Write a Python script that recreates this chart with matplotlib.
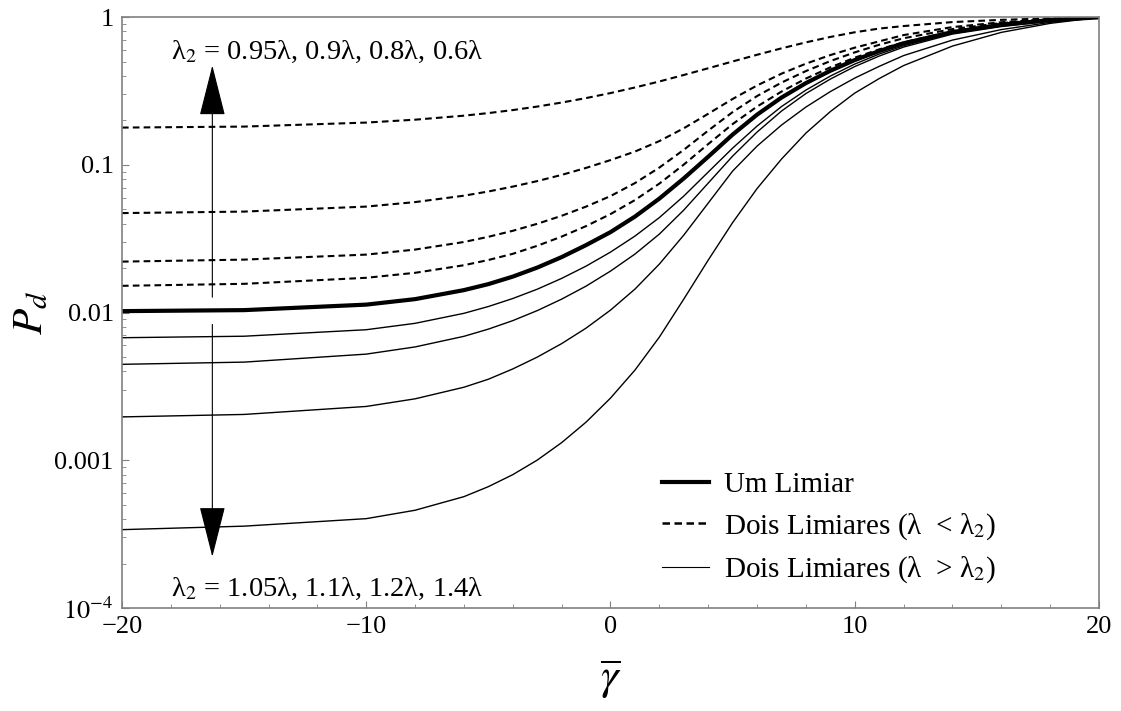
import numpy as np
import matplotlib
matplotlib.use("Agg")
import matplotlib.pyplot as plt
from matplotlib.ticker import FixedLocator, FixedFormatter, LogLocator, NullFormatter, MultipleLocator

plt.rcParams["font.family"] = ["Liberation Serif", "DejaVu Serif"]
plt.rcParams["mathtext.fontset"] = "stix"

# ===== data (mean SNR in dB -> detection probability) =====
snr = [-20, -15, -10, -8, -6, -5, -4, -3, -2, -1, 0, 1, 2, 3, 4, 5, 6, 7, 8, 9, 10,
       11, 12, 14, 16, 18, 20]

pd_single = [0.01022, 0.01038, 0.01131, 0.01232, 0.01418, 0.01557, 0.01750, 0.02014,
             0.02372, 0.02860, 0.03501, 0.04459, 0.05903, 0.08089, 0.1134, 0.1601,
             0.2184, 0.2851, 0.3573, 0.4330, 0.5115, 0.5886, 0.6647, 0.7915, 0.8869,
             0.9543, 0.9953]

# lambda2 < lambda  (dashed): 0.6, 0.8, 0.9, 0.95
pd_l2_060 = [0.1786, 0.1814, 0.1931, 0.2020, 0.2150, 0.2239, 0.2346, 0.2478, 0.2638,
             0.2829, 0.3058, 0.3337, 0.3664, 0.4055, 0.4502, 0.5005, 0.5556, 0.6140,
             0.6741, 0.7335, 0.7890, 0.8358, 0.8692, 0.9250, 0.9573, 0.9799, 0.9953]
pd_l2_080 = [0.04710, 0.04822, 0.05212, 0.05591, 0.06178, 0.06596, 0.07118, 0.07755,
             0.08542, 0.09528, 0.1076, 0.1229, 0.1447, 0.1767, 0.2215, 0.2790, 0.3443,
             0.4138, 0.4837, 0.5530, 0.6207, 0.6847, 0.7553, 0.8556, 0.9222, 0.9663,
             0.9953]
pd_l2_090 = [0.02211, 0.02281, 0.02466, 0.02667, 0.03002, 0.03255, 0.03574, 0.03986,
             0.04516, 0.05212, 0.06140, 0.07518, 0.09573, 0.1263, 0.1704, 0.2274,
             0.2919, 0.3601, 0.4310, 0.5036, 0.5768, 0.6493, 0.7188, 0.8293, 0.9107,
             0.9618, 0.9953]
pd_l2_095 = [0.01516, 0.01564, 0.01718, 0.01857, 0.02090, 0.02267, 0.02497, 0.02829,
             0.03265, 0.03846, 0.04638, 0.05768, 0.07459, 0.1003, 0.1381, 0.1886,
             0.2478, 0.3130, 0.3834, 0.4566, 0.5311, 0.6045, 0.6741, 0.8039, 0.8966,
             0.9573, 0.9953]

# lambda2 > lambda  (thin solid): 1.05, 1.1, 1.2, 1.4
pd_l2_105 = [0.006752, 0.006911, 0.007648, 0.008450, 0.009876, 0.01098, 0.01244,
             0.01438, 0.01702, 0.02061, 0.02564, 0.03291, 0.04391, 0.06140, 0.08927,
             0.1297, 0.1828, 0.2478, 0.3204, 0.3986, 0.4807, 0.5617, 0.6393, 0.7780,
             0.8828, 0.9543, 0.9953]
pd_l2_110 = [0.004460, 0.004616, 0.005229, 0.005849, 0.006901, 0.007720, 0.008813,
             0.01030, 0.01232, 0.01509, 0.01907, 0.02486, 0.03395, 0.04936, 0.07518,
             0.1145, 0.1665, 0.2310, 0.3035, 0.3804, 0.4623, 0.5445, 0.6265, 0.7672,
             0.8625, 0.9366, 0.9953]
pd_l2_120 = [0.001965, 0.002042, 0.002313, 0.002605, 0.003121, 0.003535, 0.004151,
             0.004990, 0.006159, 0.007841, 0.01038, 0.01440, 0.02127, 0.03342, 0.05505,
             0.09068, 0.1338, 0.1857, 0.2459, 0.3130, 0.3864, 0.4638, 0.5487, 0.6987,
             0.8228, 0.9207, 0.9953]
pd_l2_140 = [0.0003390, 0.0003580, 0.0004024, 0.0004587, 0.0005670, 0.0006627,
             0.0007990, 0.001002, 0.001316, 0.001811, 0.002634, 0.004074, 0.006815,
             0.01232, 0.02263, 0.04061, 0.06901, 0.1093, 0.1639, 0.2292, 0.3058,
             0.3834, 0.4696, 0.6363, 0.7877, 0.9065, 0.9953]

y_ticks = [1e-4, 1e-3, 1e-2, 1e-1, 1]
y_tick_labels = [r"$10^{-4}$", "0.001", "0.01", "0.1", "1"]
x_ticks = [-20, -10, 0, 10, 20]

up_label = "λ$_2$ = 0.95λ, 0.9λ, 0.8λ, 0.6λ"
down_label = "λ$_2$ = 1.05λ, 1.1λ, 1.2λ, 1.4λ"
legend_labels = ["Um Limiar", "Dois Limiares (λ  < λ$_2$)", "Dois Limiares (λ  > λ$_2$)"]

# ===== styles =====
SPINE = "#808080"
DASH = (0, (3.2, 2.0))

fig = plt.figure(figsize=(11.21, 7.11), dpi=100)
ax = fig.add_axes([0.1088, 0.1449, 0.8716, 0.8311])

for ys in [pd_l2_060, pd_l2_080, pd_l2_090, pd_l2_095]:
    ax.plot(snr, ys, color="black", lw=1.5, linestyle=DASH)
for ys in [pd_l2_105, pd_l2_110, pd_l2_120, pd_l2_140]:
    ax.plot(snr, ys, color="black", lw=1.0)
ax.plot(snr, pd_single, color="black", lw=3.0, solid_capstyle="butt")

ax.set_yscale("log")
ax.set_xlim(-20, 20)
ax.set_ylim(1e-4, 1)

ax.yaxis.set_major_locator(FixedLocator(y_ticks))
ax.yaxis.set_major_formatter(FixedFormatter(y_tick_labels))
ax.yaxis.set_minor_locator(LogLocator(base=10, subs=np.arange(2, 10)))
ax.yaxis.set_minor_formatter(NullFormatter())
ax.xaxis.set_major_locator(FixedLocator(x_ticks))
ax.xaxis.set_minor_locator(MultipleLocator(2))

for sp in ax.spines.values():
    sp.set_color(SPINE)
    sp.set_linewidth(1.2)
ax.tick_params(which="both", direction="in", top=False, right=False, color=SPINE,
               labelsize=19, labelcolor="black")
ax.tick_params(which="major", length=5, width=0.8, pad=6)
ax.tick_params(which="minor", length=2.8, width=0.6)

ax.set_xlabel(r"$\overline{\gamma}$", fontsize=32, labelpad=14)
ax.set_ylabel(r"$\boldsymbol{P_d}$", fontsize=31)
ax.yaxis.set_label_coords(-0.072, 0.5)

# arrows with the lambda2 annotations
arr = dict(arrowstyle="-|>,head_length=1.5,head_width=0.38", color="black",
           lw=0.8, mutation_scale=22, shrinkA=0, shrinkB=0)
ax.annotate("", xy=(-16.3, 0.47), xytext=(-16.3, 0.0127), arrowprops=arr)
ax.annotate("", xy=(-16.3, 0.000222), xytext=(-16.3, 0.0083), arrowprops=arr)
ax.text(-18.0, 0.58, up_label, fontsize=20.5, ha="left", va="center")
ax.text(-18.0, 0.000135, down_label, fontsize=20.5, ha="left", va="center")

# legend (proxy handles)
h1, = ax.plot([], [], color="black", lw=3.0)
h2, = ax.plot([], [], color="black", lw=1.8, linestyle=(0, (3.0, 1.8)))
h3, = ax.plot([], [], color="black", lw=0.8)
ax.legend([h1, h2, h3], legend_labels, loc="upper left", bbox_to_anchor=(0.553, 0.231),
          frameon=False, fontsize=21, handlelength=1.6, handletextpad=0.5,
          labelspacing=0.45, borderaxespad=0, borderpad=0)

fig.savefig("out.png", dpi=100, facecolor="white")
